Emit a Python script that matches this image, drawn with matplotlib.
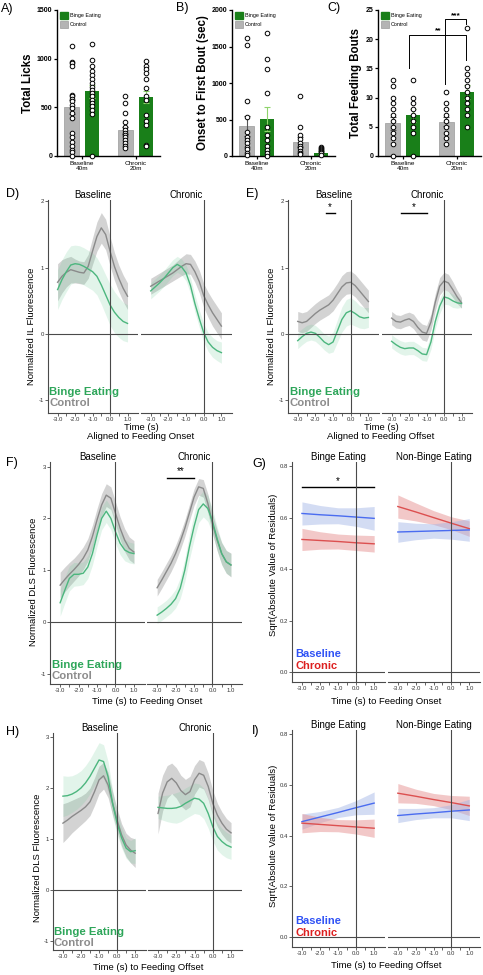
import numpy as np
import matplotlib.pyplot as plt
from matplotlib.patches import Rectangle

plt.rcParams['font.family'] = ['Liberation Sans', 'DejaVu Sans']

W, H = 483, 975

# ---------------- data: bar panels A-C ----------------
groups = ['Baseline\n40m', 'Chronic\n20m']

licks_ctrl_mean = [505, 262]
licks_ctrl_sem = [75, 40]
licks_binge_mean = [665, 607]
licks_binge_sem = [65, 65]
licks_ctrl_base = [1131, 966, 952, 924, 631, 614, 586, 562, 528, 493, 441, 390, 234, 193, 148, 107, 62, 38, 0]
licks_binge_base = [1148, 986, 924, 872, 828, 786, 752, 710, 683, 648, 614, 579, 545, 510, 476, 431, 0]
licks_ctrl_chr = [614, 545, 441, 345, 303, 269, 241, 217, 193, 166, 138, 107, 79]
licks_binge_chr = [976, 924, 890, 848, 793, 700, 614, 579, 424, 355, 321, 114, 107]

onset_ctrl_mean = [413, 197]
onset_ctrl_sem = [140, 70]
onset_binge_mean = [509, 46]
onset_binge_sem = [160, 25]
onset_ctrl_base = [1619, 1514, 748, 541, 326, 257, 220, 174, 128, 92, 46, 14]
onset_binge_base = [1688, 1330, 1197, 862, 404, 289, 220, 142, 83, 37, 5]
onset_ctrl_chr = [817, 394, 289, 229, 183, 138, 106, 73, 46, 28]
onset_binge_chr = [130, 110, 95, 80, 65, 50, 35, 20]

bouts_ctrl_mean = [5.6, 5.9]
bouts_ctrl_sem = [1.1, 0.8]
bouts_binge_mean = [7.0, 10.95]
bouts_binge_sem = [1.1, 1.2]
bouts_ctrl_base = [13, 12, 10, 9, 8, 7, 6, 5, 4, 3, 2, 0]
bouts_binge_base = [13, 10, 9, 8, 7, 6, 5, 4, 0]
bouts_ctrl_chr = [11, 9, 8, 7, 6, 5, 4, 3, 2]
bouts_binge_chr = [22, 15, 14, 13, 12, 11, 10, 9, 8, 7, 5]

# ---------------- data: photometry traces D-F, H ----------------
time = [-3.0, -2.75, -2.5, -2.25, -2.0, -1.75, -1.5, -1.25, -1.0, -0.75,
        -0.5, -0.25, 0.0, 0.25, 0.5, 0.75, 1.0]

# D) IL, aligned to feeding onset
il_on_base_ctrl = [0.78, 0.87, 0.93, 0.97, 0.95, 0.93, 0.92, 1.02, 1.25, 1.47, 1.60, 1.50, 1.25, 1.02, 0.84, 0.69, 0.57]
il_on_base_ctrl_ci = [0.28, 0.25, 0.22, 0.20, 0.18, 0.17, 0.17, 0.18, 0.20, 0.22, 0.23, 0.23, 0.22, 0.21, 0.20, 0.20, 0.20]
il_on_base_binge = [0.67, 0.82, 0.94, 1.04, 1.06, 1.05, 1.02, 0.98, 0.94, 0.87, 0.74, 0.59, 0.44, 0.33, 0.25, 0.19, 0.16]
il_on_base_binge_ci = [0.30, 0.30, 0.30, 0.29, 0.28, 0.28, 0.28, 0.28, 0.28, 0.28, 0.29, 0.30, 0.31, 0.31, 0.30, 0.29, 0.28]
il_on_chr_ctrl = [0.72, 0.76, 0.80, 0.84, 0.88, 0.92, 0.97, 1.02, 1.06, 1.05, 0.94, 0.79, 0.58, 0.44, 0.32, 0.22, 0.12]
il_on_chr_ctrl_ci = [0.12, 0.12, 0.12, 0.12, 0.12, 0.12, 0.13, 0.14, 0.15, 0.15, 0.16, 0.17, 0.18, 0.19, 0.20, 0.20, 0.20]
il_on_chr_binge = [0.65, 0.71, 0.77, 0.84, 0.92, 1.00, 1.05, 1.01, 0.92, 0.73, 0.46, 0.23, 0.02, -0.12, -0.20, -0.25, -0.28]
il_on_chr_binge_ci = [0.12, 0.12, 0.12, 0.12, 0.12, 0.12, 0.12, 0.12, 0.12, 0.12, 0.13, 0.13, 0.14, 0.14, 0.15, 0.15, 0.16]

# E) IL, aligned to feeding offset
il_off_base_ctrl = [0.19, 0.17, 0.19, 0.25, 0.31, 0.36, 0.40, 0.44, 0.51, 0.61, 0.71, 0.77, 0.78, 0.73, 0.65, 0.57, 0.49]
il_off_base_ctrl_ci = [0.15, 0.15, 0.15, 0.15, 0.15, 0.15, 0.15, 0.15, 0.16, 0.16, 0.17, 0.17, 0.17, 0.17, 0.17, 0.17, 0.17]
il_off_base_binge = [-0.10, -0.04, 0.01, 0.03, 0.01, -0.05, -0.12, -0.16, -0.12, 0.05, 0.22, 0.32, 0.35, 0.31, 0.26, 0.24, 0.25]
il_off_base_binge_ci = [0.12, 0.12, 0.12, 0.12, 0.12, 0.12, 0.12, 0.13, 0.15, 0.17, 0.19, 0.20, 0.20, 0.19, 0.17, 0.16, 0.15]
il_off_chr_ctrl = [0.24, 0.19, 0.18, 0.21, 0.23, 0.19, 0.10, 0.03, 0.01, 0.18, 0.48, 0.72, 0.80, 0.77, 0.67, 0.56, 0.47]
il_off_chr_ctrl_ci = [0.10, 0.10, 0.10, 0.10, 0.10, 0.11, 0.11, 0.12, 0.12, 0.12, 0.13, 0.13, 0.13, 0.13, 0.12, 0.10, 0.08]
il_off_chr_binge = [-0.11, -0.16, -0.20, -0.22, -0.21, -0.21, -0.25, -0.30, -0.31, -0.12, 0.19, 0.42, 0.56, 0.54, 0.50, 0.47, 0.46]
il_off_chr_binge_ci = [0.10, 0.10, 0.10, 0.10, 0.10, 0.10, 0.10, 0.10, 0.10, 0.11, 0.11, 0.11, 0.11, 0.10, 0.10, 0.08, 0.06]

# F) DLS, aligned to feeding onset
dls_on_base_ctrl = [0.71, 0.82, 0.92, 1.01, 1.11, 1.23, 1.39, 1.65, 1.97, 2.26, 2.45, 2.39, 2.10, 1.81, 1.58, 1.42, 1.35]
dls_on_base_ctrl_ci = [0.25, 0.24, 0.23, 0.22, 0.22, 0.22, 0.22, 0.22, 0.22, 0.22, 0.22, 0.22, 0.22, 0.22, 0.22, 0.22, 0.22]
dls_on_base_binge = [0.37, 0.61, 0.84, 0.92, 0.92, 0.94, 1.06, 1.32, 1.68, 2.00, 2.14, 2.00, 1.74, 1.52, 1.39, 1.34, 1.32]
dls_on_base_binge_ci = [0.26, 0.25, 0.24, 0.23, 0.22, 0.22, 0.22, 0.22, 0.22, 0.22, 0.22, 0.22, 0.22, 0.22, 0.21, 0.20, 0.20]
dls_on_chr_ctrl = [0.66, 0.81, 0.97, 1.13, 1.32, 1.55, 1.81, 2.11, 2.41, 2.61, 2.58, 2.29, 1.90, 1.58, 1.32, 1.16, 1.10]
dls_on_chr_ctrl_ci = [0.16, 0.16, 0.16, 0.16, 0.16, 0.16, 0.16, 0.16, 0.16, 0.16, 0.17, 0.18, 0.19, 0.20, 0.21, 0.22, 0.23]
dls_on_chr_binge = [0.13, 0.19, 0.26, 0.34, 0.45, 0.65, 1.00, 1.45, 1.84, 2.17, 2.28, 2.19, 1.94, 1.61, 1.32, 1.16, 1.10]
dls_on_chr_binge_ci = [0.16, 0.16, 0.16, 0.17, 0.18, 0.20, 0.22, 0.24, 0.25, 0.25, 0.25, 0.25, 0.24, 0.23, 0.22, 0.22, 0.22]

# H) DLS, aligned to feeding offset
dls_off_base_ctrl = [1.31, 1.37, 1.44, 1.50, 1.56, 1.63, 1.73, 1.93, 2.16, 2.24, 2.06, 1.70, 1.37, 1.08, 0.88, 0.78, 0.72]
dls_off_base_ctrl_ci = [0.38, 0.35, 0.32, 0.30, 0.28, 0.27, 0.27, 0.27, 0.27, 0.26, 0.25, 0.23, 0.22, 0.22, 0.23, 0.25, 0.28]
dls_off_base_binge = [1.84, 1.85, 1.88, 1.93, 2.00, 2.10, 2.23, 2.39, 2.55, 2.52, 2.22, 1.70, 1.31, 1.02, 0.82, 0.75, 0.77]
dls_off_base_binge_ci = [0.40, 0.38, 0.36, 0.35, 0.34, 0.34, 0.34, 0.34, 0.34, 0.33, 0.30, 0.26, 0.22, 0.20, 0.20, 0.22, 0.25]
dls_off_chr_ctrl = [1.50, 1.90, 2.12, 2.19, 2.10, 1.95, 1.87, 1.93, 2.16, 2.29, 2.25, 2.03, 1.70, 1.47, 1.31, 1.19, 1.12]
dls_off_chr_ctrl_ci = [0.40, 0.35, 0.32, 0.30, 0.30, 0.30, 0.30, 0.30, 0.28, 0.27, 0.27, 0.26, 0.25, 0.23, 0.22, 0.21, 0.20]
dls_off_chr_binge = [1.62, 1.61, 1.60, 1.60, 1.61, 1.64, 1.70, 1.75, 1.80, 1.78, 1.70, 1.50, 1.24, 1.05, 0.95, 0.88, 0.84]
dls_off_chr_binge_ci = [0.22, 0.24, 0.26, 0.28, 0.30, 0.30, 0.30, 0.30, 0.30, 0.30, 0.30, 0.29, 0.28, 0.27, 0.26, 0.25, 0.24]

# ---------------- data: residual fits G, I ----------------
fit_time = [-3.0, -2.0, -1.0, 0.0, 1.0]

g_binge_base = [0.616, 0.611, 0.607, 0.602, 0.597]
g_binge_base_ci = [0.045, 0.036, 0.031, 0.036, 0.046]
g_binge_chr = [0.515, 0.511, 0.507, 0.502, 0.498]
g_binge_chr_ci = [0.043, 0.034, 0.029, 0.030, 0.032]
g_non_base = [0.544, 0.546, 0.548, 0.550, 0.552]
g_non_base_ci = [0.040, 0.032, 0.028, 0.034, 0.044]
g_non_chr = [0.643, 0.622, 0.600, 0.578, 0.557]
g_non_chr_ci = [0.045, 0.035, 0.027, 0.025, 0.030]

i_binge_base = [0.455, 0.473, 0.491, 0.510, 0.528]
i_binge_base_ci = [0.030, 0.022, 0.020, 0.028, 0.044]
i_binge_chr = [0.449, 0.444, 0.439, 0.434, 0.429]
i_binge_chr_ci = [0.038, 0.028, 0.024, 0.028, 0.036]
i_non_base = [0.479, 0.485, 0.490, 0.496, 0.501]
i_non_base_ci = [0.028, 0.022, 0.020, 0.026, 0.042]
i_non_chr = [0.567, 0.555, 0.542, 0.530, 0.517]
i_non_chr_ci = [0.038, 0.028, 0.024, 0.028, 0.038]

# ---------------- style ----------------
BAR_GRAY = '#b4b4b4'
BAR_GREEN = '#197f19'
ERR_GREEN = '#8fd46c'
LINE_GREEN = '#4cb67e'
FILL_GREEN = '#6fcb98'
LINE_GRAY = '#8a8a8a'
FILL_GRAY = '#7a7a7a'
LINE_BLUE = '#4a6cf0'
FILL_BLUE = '#9fb2e6'
LINE_RED = '#dc5050'
FILL_RED = '#e79292'
TXT_GREEN = '#2ea65a'
TXT_GRAY = '#8c8c8c'
TXT_BLUE = '#2f52f5'
TXT_RED = '#dd2020'
AX_COL = '#4a4a4a'

fig = plt.figure(figsize=(W / 100, H / 100), dpi=100)


def px_axes(l, t, r, b):
    return fig.add_axes([l / W, 1 - b / H, (r - l) / W, (b - t) / H])


def ftext(x, y, s, **kw):
    fig.text(x / W, 1 - y / H, s, **kw)


def bar_panel(ax, ctrl_mean, ctrl_sem, binge_mean, binge_sem, ctrl_pts, binge_pts,
              ymax, ystep, ylabel):
    pos = np.arange(len(groups))
    off, bw = 0.19, 0.27
    ax.bar(pos - off, ctrl_mean, bw, color=BAR_GRAY, edgecolor='#9a9a9a', lw=0.5, zorder=1)
    ax.bar(pos + off, binge_mean, bw, color=BAR_GREEN, zorder=1)
    ax.errorbar(pos - off, ctrl_mean, yerr=ctrl_sem, fmt='none', ecolor='#555555',
                elinewidth=0.8, capsize=2, capthick=0.8, zorder=2)
    ax.errorbar(pos + off, binge_mean, yerr=binge_sem, fmt='none', ecolor=ERR_GREEN,
                elinewidth=0.8, capsize=2.5, capthick=0.8, zorder=2)
    for i, (cp, bp) in enumerate(zip(ctrl_pts, binge_pts)):
        ax.plot([pos[i] - off] * len(cp), cp, 'o', ms=3.3, mfc='white', mec='black',
                mew=0.7, clip_on=False, zorder=3)
        ax.plot([pos[i] + off] * len(bp), bp, 'o', ms=3.3, mfc='white', mec='black',
                mew=0.7, clip_on=False, zorder=3)
    ax.set_xlim(-0.46, 1.45)
    ax.set_ylim(0, ymax)
    ax.set_yticks(np.arange(0, ymax + 1e-9, ystep))
    ax.set_xticks(pos)
    ax.set_xticklabels(groups, fontsize=4.6, linespacing=1.0)
    for lab in ax.get_yticklabels():
        lab.set_fontweight('bold')
    ax.tick_params(axis='y', labelsize=5, length=2.5, width=0.9, pad=1)
    ax.tick_params(axis='x', length=2, width=0.9, pad=1.5)
    for s in ['top', 'right']:
        ax.spines[s].set_visible(False)
    for s in ['left', 'bottom']:
        ax.spines[s].set_linewidth(1.0)
    ax.set_ylabel(ylabel, fontsize=8.3, fontweight='bold', labelpad=2)
    # legend boxes
    ax.add_patch(Rectangle((0.03, 0.938), 0.078, 0.048, transform=ax.transAxes,
                           color=BAR_GREEN, clip_on=False))
    ax.add_patch(Rectangle((0.03, 0.877), 0.078, 0.048, transform=ax.transAxes,
                           facecolor=BAR_GRAY, edgecolor='#9a9a9a', lw=0.5, clip_on=False))
    ax.text(0.125, 0.962, 'Binge Eating', transform=ax.transAxes, fontsize=3.9, va='center')
    ax.text(0.125, 0.901, 'Control', transform=ax.transAxes, fontsize=3.9, va='center')


axA = px_axes(57, 10, 160, 156)
bar_panel(axA, licks_ctrl_mean, licks_ctrl_sem, licks_binge_mean, licks_binge_sem,
          [licks_ctrl_base, licks_ctrl_chr], [licks_binge_base, licks_binge_chr],
          1500, 500, 'Total Licks')
axB = px_axes(232, 10, 335, 156)
bar_panel(axB, onset_ctrl_mean, onset_ctrl_sem, onset_binge_mean, onset_binge_sem,
          [onset_ctrl_base, onset_ctrl_chr], [onset_binge_base, onset_binge_chr],
          2000, 500, 'Onset to First Bout (sec)')
axC = px_axes(378, 10, 481, 156)
bar_panel(axC, bouts_ctrl_mean, bouts_ctrl_sem, bouts_binge_mean, bouts_binge_sem,
          [bouts_ctrl_base, bouts_ctrl_chr], [bouts_binge_base, bouts_binge_chr],
          25, 5, 'Total Feeding Bouts')

# significance brackets in C
axC.plot([0.12, 0.12, 1.17, 1.17], [15.0, 20.8, 20.8, 16.5], color='black', lw=0.7, clip_on=False)
axC.plot([0.79, 0.79, 1.17, 1.17], [12.3, 23.4, 23.4, 22.6], color='black', lw=0.7, clip_on=False)
axC.text(0.66, 20.9, '**', fontsize=6, fontweight='bold', ha='center', va='bottom')
axC.text(0.98, 23.5, '***', fontsize=6, fontweight='bold', ha='center', va='bottom')

# ---------------- trace panels ----------------
XLIM = (-3.55, 1.6)
XT = [-3.0, -2.5, -2.0, -1.5, -1.0, -0.5, 0.0, 0.5, 1.0]
XTL = ['-3.0', '', '-2.0', '', '-1.0', '', '0.0', '', '1.0']


def facet(ax, ylim, yticks, yticklabels, first, title):
    ax.set_xlim(*XLIM)
    ax.set_ylim(*ylim)
    ax.axvline(0, color=AX_COL, lw=0.8, zorder=4)
    ax.axhline(0, color=AX_COL, lw=0.8, zorder=4)
    ax.set_xticks(XT)
    ax.set_xticklabels(XTL)
    ax.tick_params(axis='both', labelsize=4.3, length=2, width=0.6, pad=1,
                   colors=AX_COL, labelcolor='#333333')
    for s in ['top', 'right']:
        ax.spines[s].set_visible(False)
    ax.spines['bottom'].set_color(AX_COL)
    ax.spines['bottom'].set_linewidth(0.8)
    if first:
        ax.spines['left'].set_color(AX_COL)
        ax.spines['left'].set_linewidth(0.8)
        ax.set_yticks(yticks)
        ax.set_yticklabels(yticklabels)
    else:
        ax.spines['left'].set_visible(False)
        ax.set_yticks([])
    ax.set_title(title, fontsize=7, pad=1.5)


def ribbon(ax, t, m, ci, lc, fc, alpha):
    m = np.array(m)
    ci = np.array(ci)
    ax.fill_between(t, m - ci, m + ci, color=fc, alpha=alpha, lw=0, zorder=1)
    ax.plot(t, m, color=lc, lw=1.0, zorder=3)


def trace_panel(boxes, ylim, yticks, series, titles):
    axes = []
    for k, (box, title) in enumerate(zip(boxes, titles)):
        ax = px_axes(*box)
        facet(ax, ylim, yticks, [str(v) for v in yticks], k == 0, title)
        for m, ci, kind in series[k]:
            if kind == 'ctrl':
                ribbon(ax, time, m, ci, LINE_GRAY, FILL_GRAY, 0.33)
            else:
                ribbon(ax, time, m, ci, LINE_GREEN, FILL_GREEN, 0.2)
        axes.append(ax)
    return axes


def fit_panel(boxes, series, titles):
    axes = []
    for k, (box, title) in enumerate(zip(boxes, titles)):
        ax = px_axes(*box)
        facet(ax, (-0.039, 0.816), [0.0, 0.2, 0.4, 0.6, 0.8],
              ['0.0', '0.2', '0.4', '0.6', '0.8'], k == 0, title)
        for m, ci, kind in series[k]:
            if kind == 'base':
                ribbon(ax, fit_time, m, ci, LINE_BLUE, FILL_BLUE, 0.45)
            else:
                ribbon(ax, fit_time, m, ci, LINE_RED, FILL_RED, 0.5)
        axes.append(ax)
    return axes


d_axes = trace_panel([(48, 200, 138, 413), (141, 200, 232, 413)], (-1.19, 2.02), [-1, 0, 1, 2],
                     [[(il_on_base_ctrl, il_on_base_ctrl_ci, 'ctrl'), (il_on_base_binge, il_on_base_binge_ci, 'binge')],
                      [(il_on_chr_ctrl, il_on_chr_ctrl_ci, 'ctrl'), (il_on_chr_binge, il_on_chr_binge_ci, 'binge')]],
                     ['Baseline', 'Chronic'])
e_axes = trace_panel([(288, 200, 379, 413), (382, 200, 472, 413)], (-1.19, 2.02), [-1, 0, 1, 2],
                     [[(il_off_base_ctrl, il_off_base_ctrl_ci, 'ctrl'), (il_off_base_binge, il_off_base_binge_ci, 'binge')],
                      [(il_off_chr_ctrl, il_off_chr_ctrl_ci, 'ctrl'), (il_off_chr_binge, il_off_chr_binge_ci, 'binge')]],
                     ['Baseline', 'Chronic'])
f_axes = trace_panel([(50, 462, 145, 684), (147, 462, 242, 684)], (-1.2, 3.09), [-1, 0, 1, 2, 3],
                     [[(dls_on_base_ctrl, dls_on_base_ctrl_ci, 'ctrl'), (dls_on_base_binge, dls_on_base_binge_ci, 'binge')],
                      [(dls_on_chr_ctrl, dls_on_chr_ctrl_ci, 'ctrl'), (dls_on_chr_binge, dls_on_chr_binge_ci, 'binge')]],
                     ['Baseline', 'Chronic'])
h_axes = trace_panel([(53, 733, 146, 950), (148, 733, 242, 950)], (-1.18, 3.08), [-1, 0, 1, 2, 3],
                     [[(dls_off_base_ctrl, dls_off_base_ctrl_ci, 'ctrl'), (dls_off_base_binge, dls_off_base_binge_ci, 'binge')],
                      [(dls_off_chr_ctrl, dls_off_chr_ctrl_ci, 'ctrl'), (dls_off_chr_binge, dls_off_chr_binge_ci, 'binge')]],
                     ['Baseline', 'Chronic'])
g_axes = fit_panel([(292, 462, 385, 682), (388, 462, 480, 682)],
                   [[(g_binge_base, g_binge_base_ci, 'base'), (g_binge_chr, g_binge_chr_ci, 'chr')],
                    [(g_non_chr, g_non_chr_ci, 'chr'), (g_non_base, g_non_base_ci, 'base')]],
                   ['Binge Eating', 'Non-Binge Eating'])
i_axes = fit_panel([(292, 730, 385, 947), (388, 730, 480, 947)],
                   [[(i_binge_base, i_binge_base_ci, 'base'), (i_binge_chr, i_binge_chr_ci, 'chr')],
                    [(i_non_chr, i_non_chr_ci, 'chr'), (i_non_base, i_non_base_ci, 'base')]],
                   ['Binge Eating', 'Non-Binge Eating'])

# significance bars
e_axes[0].plot([-1.42, -0.91], [1.82, 1.82], color='black', lw=1.0)
e_axes[0].text(-1.17, 1.84, '*', fontsize=7, ha='center', va='bottom')
e_axes[1].plot([-2.45, -0.97], [1.82, 1.82], color='black', lw=1.0)
e_axes[1].text(-1.71, 1.84, '*', fontsize=7, ha='center', va='bottom')
f_axes[1].plot([-2.48, -1.02], [2.79, 2.79], color='black', lw=1.0)
f_axes[1].text(-1.75, 2.81, '**', fontsize=7, ha='center', va='bottom')
g_axes[0].plot([-3.0, 1.0], [0.72, 0.72], color='black', lw=1.0)
g_axes[0].text(-1.0, 0.722, '*', fontsize=7, ha='center', va='bottom')

# ---------------- labels ----------------
for lab, x, y in [('A)', 1, 9), ('B)', 176, 8), ('C)', 327, 8), ('D)', 6, 194), ('E)', 246, 194),
                  ('F)', 6, 463), ('G)', 252, 464), ('H)', 6, 732), ('I)', 252, 731)]:
    ftext(x, y, lab, fontsize=9, va='center', ha='left')

for x, y, s in [(32, 326, 'Normalized IL Fluorescence'), (272, 326, 'Normalized IL Fluorescence'),
                (33, 582, 'Normalized DLS Fluorescence'), (273, 565, 'Sqrt(Absolute Value of Residuals)'),
                (37, 858, 'Normalized DLS Fluorescence'), (273, 836, 'Sqrt(Absolute Value of Residuals)')]:
    ftext(x, y, s, fontsize=6.8, rotation=90, ha='center', va='center')

ftext(141, 432, 'Time (s)\nAligned to Feeding Onset', fontsize=6.8, ha='center', va='center', linespacing=1.0)
ftext(381, 432, 'Time (s)\nAligned to Feeding Offset', fontsize=6.8, ha='center', va='center', linespacing=1.0)
ftext(147, 702, 'Time (s) to Feeding Onset', fontsize=6.8, ha='center', va='center')
ftext(386, 702, 'Time (s) to Feeding Onset', fontsize=6.8, ha='center', va='center')
ftext(148, 967, 'Time (s) to Feeding Offset', fontsize=6.8, ha='center', va='center')
ftext(386, 966, 'Time (s) to Feeding Offset', fontsize=6.8, ha='center', va='center')

for x, y1, y2 in [(49, 392, 403), (290, 392, 403), (52, 665, 676), (54, 932, 943)]:
    ftext(x, y1, 'Binge Eating', fontsize=8.2, fontweight='bold', color=TXT_GREEN, va='center')
    ftext(x, y2, 'Control', fontsize=8.2, fontweight='bold', color=TXT_GRAY, va='center')
for x, y1, y2 in [(295, 654, 666), (295, 921, 933)]:
    ftext(x, y1, 'Baseline', fontsize=8.0, fontweight='bold', color=TXT_BLUE, va='center')
    ftext(x, y2, 'Chronic', fontsize=8.0, fontweight='bold', color=TXT_RED, va='center')

fig.savefig('out.png', dpi=100)
